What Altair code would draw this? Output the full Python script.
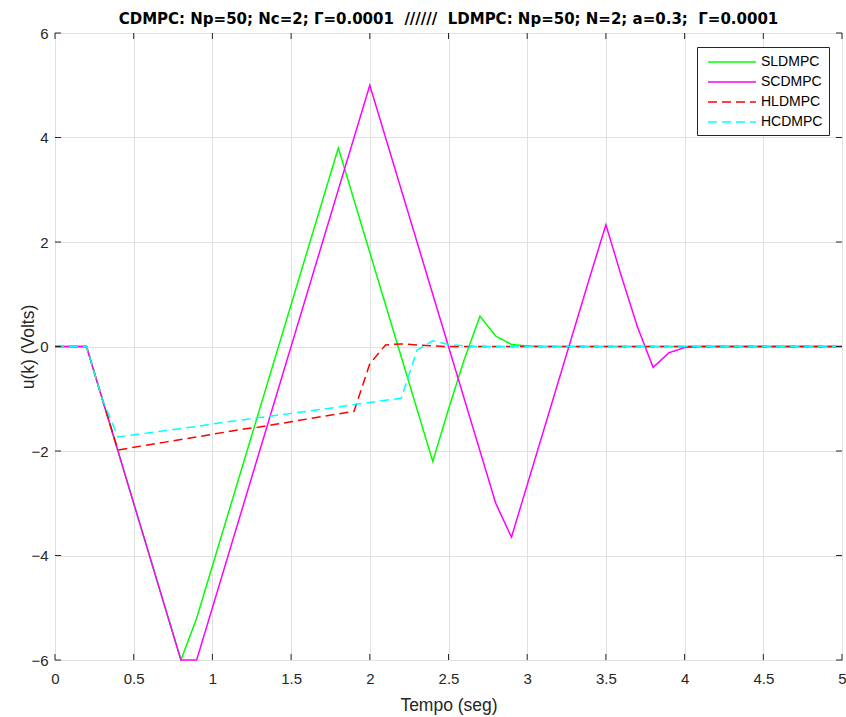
import altair as alt
import pandas as pd

t = [0.0, 0.1, 0.2, 0.3, 0.4, 0.5, 0.6, 0.7, 0.8, 0.9,
     1.0, 1.1, 1.2, 1.3, 1.4, 1.5, 1.6, 1.7, 1.8, 1.9,
     2.0, 2.1, 2.2, 2.3, 2.4, 2.5, 2.6, 2.7, 2.8, 2.9,
     3.0, 3.1, 3.2, 3.3, 3.4, 3.5, 3.6, 3.7, 3.8, 3.9,
     4.0, 4.1, 4.2, 4.3, 4.4, 4.5, 4.6, 4.7, 4.8, 4.9, 5.0]

sldmpc = [0, 0, 0, -1, -2, -3, -4, -5, -6, -5.2,
          -4.2, -3.2, -2.2, -1.2, -0.2, 0.8, 1.8, 2.8, 3.8, 2.8,
          1.8, 0.8, -0.2, -1.2, -2.2, -1.2, -0.25, 0.58, 0.2, 0.04,
          0.01, 0, 0, 0, 0, 0, 0, 0, 0, 0,
          0, 0, 0, 0, 0, 0, 0, 0, 0, 0, 0]

scdmpc = [0, 0, 0, -1, -2, -3, -4, -5, -6, -6,
          -5, -4, -3, -2, -1, 0, 1, 2, 3, 4,
          5, 4, 3, 2, 1, 0, -1, -2, -3, -3.65,
          -2.65, -1.65, -0.65, 0.35, 1.35, 2.33, 1.33, 0.38, -0.4, -0.12,
          -0.02, 0, 0, 0, 0, 0, 0, 0, 0, 0, 0]

hldmpc = [0, 0, 0, -1, -1.98, -1.93, -1.88, -1.83, -1.78, -1.73,
          -1.68, -1.63, -1.58, -1.54, -1.49, -1.44, -1.39, -1.34, -1.29, -1.24,
          -0.33, 0.03, 0.05, 0.03, 0.01, 0, 0, 0, 0, 0,
          0, 0, 0, 0, 0, 0, 0, 0, 0, 0,
          0, 0, 0, 0, 0, 0, 0, 0, 0, 0, 0]

hcdmpc = [0, 0, 0, -1, -1.73, -1.69, -1.65, -1.61, -1.57, -1.53,
          -1.48, -1.44, -1.40, -1.36, -1.32, -1.28, -1.24, -1.20, -1.16, -1.11,
          -1.07, -1.03, -0.99, -0.07, 0.11, 0.04, 0.01, 0, 0, 0,
          0, 0, 0, 0, 0, 0, 0, 0, 0, 0,
          0, 0, 0, 0, 0, 0, 0, 0, 0, 0, 0]

series_names = ["SLDMPC", "SCDMPC", "HLDMPC", "HCDMPC"]
series_colors = ["#00ff00", "#ff00ff", "#ff0000", "#00ffff"]
series_dash = [[1, 0], [1, 0], [9, 5], [9, 5]]

x_ticks = [0, 0.5, 1, 1.5, 2, 2.5, 3, 3.5, 4, 4.5, 5]
y_ticks = [-6, -4, -2, 0, 2, 4, 6]

NB = "\u00a0"
title_text = ("CDMPC: Np=50; Nc=2; Γ=0.0001" + NB * 2 + "//////" + NB * 2 +
              "LDMPC: Np=50; N=2; a=0.3;" + NB * 2 + "Γ=0.0001")

W, H = 787, 627
FONT = "Liberation Sans"
AX = "#262626"

rows = []
for k, (name, vals) in enumerate(zip(series_names, [sldmpc, scdmpc, hldmpc, hcdmpc])):
    for tt, v in zip(t, vals):
        rows.append({"series": name, "t": tt, "u": v, "order": k})
df = pd.DataFrame(rows)

xscale = alt.Scale(domain=[0, 5], nice=False)
yscale = alt.Scale(domain=[-6, 6], nice=False)

lines = alt.Chart(df).mark_line(strokeWidth=1.5).encode(
    x=alt.X("t:Q", scale=xscale,
            axis=alt.Axis(values=x_ticks, format="~g", title="Tempo (seg)", grid=True,
                          ticks=False, domain=False, labelPadding=11, labelFlush=False,
                          titleX=W / 2, titleY=50, titleBaseline="alphabetic")),
    y=alt.Y("u:Q", scale=yscale,
            axis=alt.Axis(values=y_ticks, format="~g", title="u(k) (Volts)", grid=True,
                          ticks=False, domain=False, labelPadding=7, labelFlush=False,
                          titleX=-22, titleY=H / 2, titleBaseline="alphabetic")),
    color=alt.Color("series:N", scale=alt.Scale(domain=series_names, range=series_colors),
                    legend=alt.Legend(title=None, orient="none", legendX=642, legendY=14,
                                      symbolType="M-3,0H3", symbolSize=256, symbolStrokeWidth=1.5,
                                      symbolOffset=20, labelOffset=20,
                                      labelFontSize=14, labelFont=FONT, labelColor="#000000",
                                      strokeColor=AX, fillColor="white", padding=6,
                                      rowPadding=4)),
    strokeDash=alt.StrokeDash("series:N", scale=alt.Scale(domain=series_names, range=series_dash),
                              legend=None),
    order=alt.Order("order:Q"),
    detail="series:N",
)

xt = pd.DataFrame({"v": x_ticks})
yt = pd.DataFrame({"v": y_ticks})
tick_bottom = alt.Chart(xt).mark_rule(color=AX, strokeWidth=1).encode(
    x=alt.X("v:Q", scale=xscale), y=alt.value(H), y2=alt.value(H - 6))
tick_top = alt.Chart(xt).mark_rule(color=AX, strokeWidth=1).encode(
    x=alt.X("v:Q", scale=xscale), y=alt.value(0), y2=alt.value(6))
tick_left = alt.Chart(yt).mark_rule(color=AX, strokeWidth=1).encode(
    y=alt.Y("v:Q", scale=yscale), x=alt.value(0), x2=alt.value(6))
tick_right = alt.Chart(yt).mark_rule(color=AX, strokeWidth=1).encode(
    y=alt.Y("v:Q", scale=yscale), x=alt.value(W), x2=alt.value(W - 6))

chart = alt.layer(lines, tick_bottom, tick_top, tick_left, tick_right).properties(
    width=W, height=H,
    background="white",
    title=alt.TitleParams(title_text, fontSize=15, font="DejaVu Sans", fontWeight="bold",
                          color="#000000", anchor="middle", offset=0, dy=1.3),
    autosize=alt.AutoSizeParams(type="none"),
    padding={"left": 55, "top": 33, "right": 4, "bottom": 57},
).configure_view(stroke=AX, strokeWidth=1).configure_axis(
    labelFont=FONT, labelFontSize=15, labelColor=AX,
    titleFont=FONT, titleFontSize=17.5, titleColor=AX, titleFontWeight="normal",
    gridColor="#e0e0e0", gridWidth=1,
)

chart.save("out.html", embed_options={"renderer": "svg", "actions": False})
